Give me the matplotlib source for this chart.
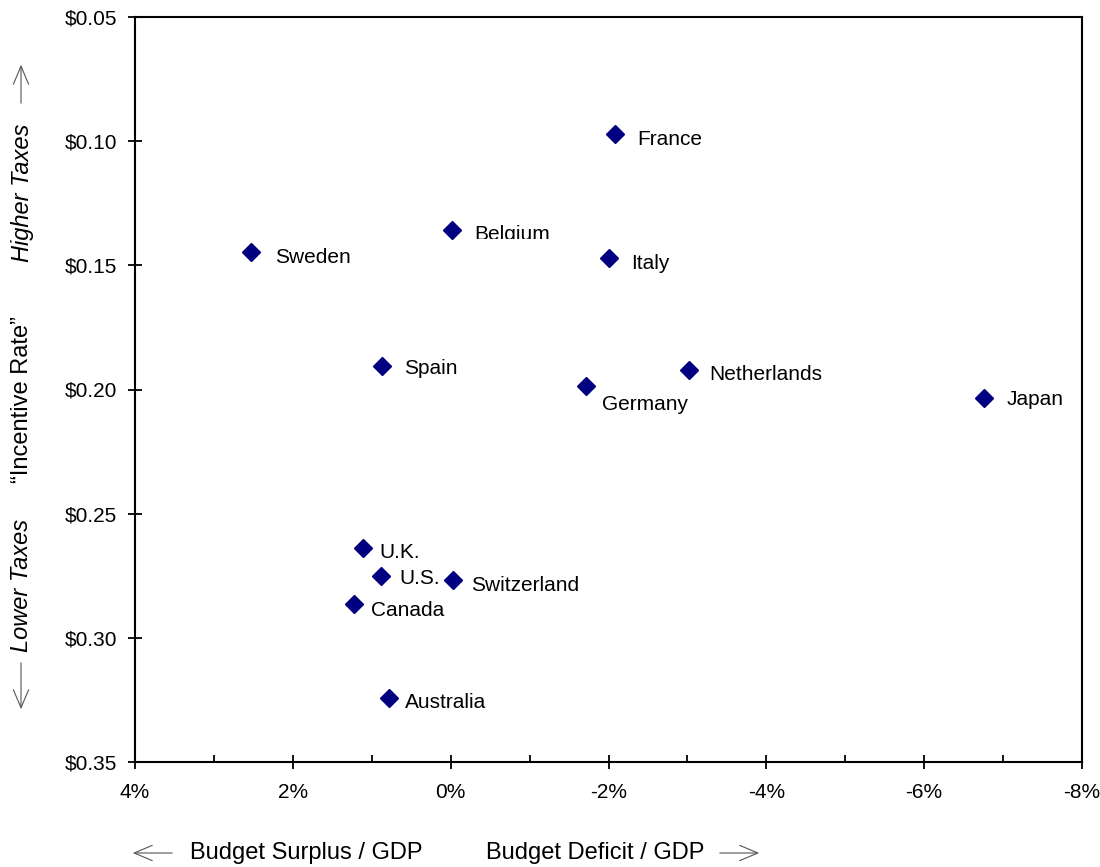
import matplotlib.pyplot as plt
from matplotlib.patches import Rectangle
from matplotlib.ticker import FuncFormatter, MultipleLocator

# Дані: баланс бюджету / ВВП (%) та "incentive rate" ($)
countries = ['France', 'Belgium', 'Sweden', 'Italy', 'Spain', 'Germany',
             'Netherlands', 'Japan', 'U.K.', 'U.S.', 'Switzerland',
             'Canada', 'Australia']
budget_pct = [-2.08, -0.02, 2.53, -2.01, 0.87, -1.72,
              -3.02, -6.76, 1.11, 0.88, -0.03, 1.23, 0.78]
incentive_rate = [0.0972, 0.1358, 0.1446, 0.1472, 0.1905, 0.1986,
                  0.1921, 0.2034, 0.2640, 0.2751, 0.2767, 0.2864, 0.3244]

# зсув підписів (пікселі: праворуч, вниз)
label_offsets = [(22, 5), (22, 4), (24, 6), (22, 5), (22, 3), (16, 18),
                 (20, 5), (22, 2), (16, 4), (18, 3), (18, 6), (17, 6), (16, 4)]

W, H = 1100, 867
plt.rcParams['font.family'] = ['Liberation Sans', 'DejaVu Sans']

fig = plt.figure(figsize=(W / 100, H / 100), dpi=100)
ax = fig.add_axes([135 / W, 1 - 762 / H, (1082 - 135) / W, (762 - 17) / H])

ax.plot(budget_pct, incentive_rate, linestyle='none', marker='D',
        markersize=9.2, color='#000080', zorder=3)

for name, x, y, (dx, dy) in zip(countries, budget_pct, incentive_rate, label_offsets):
    t = ax.annotate(name, (x, y), xytext=(dx * 0.72, -dy * 0.72),
                    textcoords='offset points', ha='left', va='center',
                    fontsize=15, color='black')
    if name == 'Belgium':
        # в оригіналі нижня частина підпису обрізана
        clip = Rectangle((1.0, 0.05), -4.0, 0.0895, transform=ax.transData)
        t.set_clip_path(clip)

ax.set_xlim(4, -8)
ax.set_ylim(0.35, 0.05)
ax.xaxis.set_major_locator(MultipleLocator(2))
ax.xaxis.set_minor_locator(MultipleLocator(1))
ax.yaxis.set_major_locator(MultipleLocator(0.05))
ax.xaxis.set_major_formatter(FuncFormatter(lambda v, p: f'{v:.0f}%'))
ax.yaxis.set_major_formatter(FuncFormatter(lambda v, p: f'${v:.2f}'))

ax.tick_params(axis='both', which='major', direction='inout', length=10,
               width=1.3, labelsize=15, colors='black')
ax.tick_params(axis='x', which='major', pad=10)
ax.tick_params(axis='y', which='major', pad=8)
ax.tick_params(axis='x', which='minor', direction='in', length=5, width=1.3)
for s in ax.spines.values():
    s.set_linewidth(1.5)
    s.set_color('black')


def fp(x, y):
    return (x / W, 1 - y / H)


# підписи осей
fig.text(*fp(306, 853), 'Budget Surplus / GDP', ha='center', va='center', fontsize=17)
fig.text(*fp(595, 853), 'Budget Deficit / GDP', ha='center', va='center', fontsize=17)
fig.text(*fp(22, 193), 'Higher Taxes', ha='center', va='center', fontsize=17,
         rotation=90, style='italic')
fig.text(*fp(22, 400), '\u201cIncentive Rate\u201d', ha='center', va='center',
         fontsize=17, rotation=90)
fig.text(*fp(22, 585), 'Lower Taxes', ha='center', va='center', fontsize=17,
         rotation=90, style='italic')

arrow = dict(arrowstyle='->,head_length=1.3,head_width=0.55', color='#555555', lw=0.8)
ax.annotate('', xy=fp(130, 853), xytext=fp(175, 853), xycoords='figure fraction',
            textcoords='figure fraction', arrowprops=arrow)
ax.annotate('', xy=fp(762, 853), xytext=fp(717, 853), xycoords='figure fraction',
            textcoords='figure fraction', arrowprops=arrow)
ax.annotate('', xy=fp(21, 62), xytext=fp(21, 106), xycoords='figure fraction',
            textcoords='figure fraction', arrowprops=arrow)
ax.annotate('', xy=fp(21, 712), xytext=fp(21, 660), xycoords='figure fraction',
            textcoords='figure fraction', arrowprops=arrow)

fig.savefig('out.png', dpi=100)
